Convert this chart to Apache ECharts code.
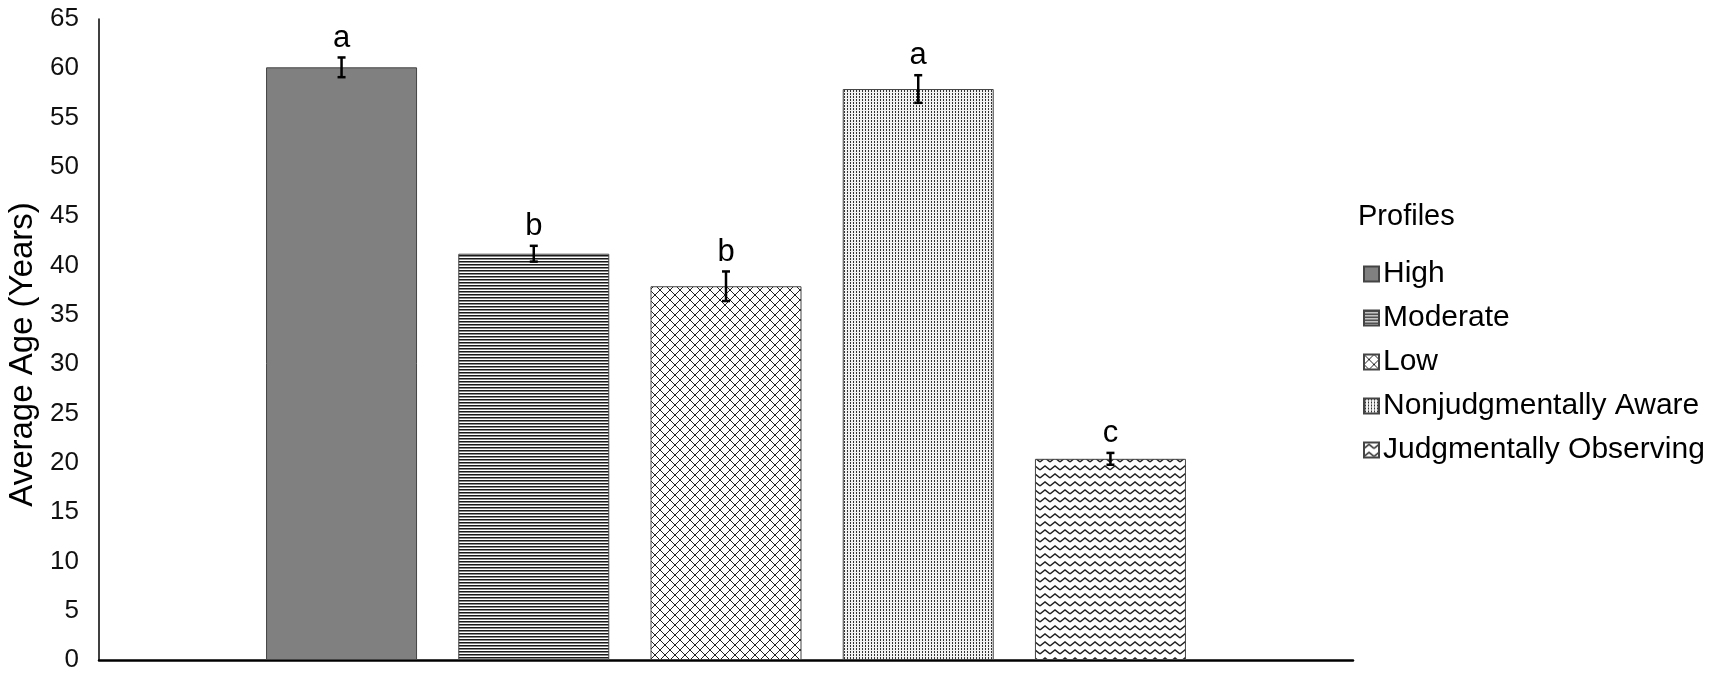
<!DOCTYPE html>
<html lang="en">
<head>
    <meta charset="UTF-8">
    <title>Average Age by Profile</title>
    <script src="https://cdn.jsdelivr.net/npm/echarts@6/dist/echarts.min.js"></script>
    <style>
        body{ margin:0; background:#fff; }
        #main{ width:1713px; height:676px; }
    </style>
</head>
<body>
<div id="main"></div>
<script type="text/javascript">
    // data
    var profiles = ['High', 'Moderate', 'Low', 'Nonjudgmentally Aware', 'Judgmentally Observing'];
    var means = [60.1, 41.2, 37.9, 57.9, 20.4];
    var errors = [1.0, 0.8, 1.5, 1.4, 0.6];
    var letters = ['a', 'b', 'b', 'a', 'c'];
    var yTicks = [0, 65, 5]; // min, max, step

    var BAR_W = 151, BAR_GAP = 0.273;

    // small canvas tiles used as fill patterns
    function tile(w, h, draw) {
        var c = document.createElement('canvas');
        c.width = w; c.height = h;
        var ctx = c.getContext('2d');
        ctx.fillStyle = '#fff';
        ctx.fillRect(0, 0, w, h);
        draw(ctx);
        return {image: c, repeat: 'repeat'};
    }
    var fills = [
        '#808080',
        tile(4, 3, function (ctx) {
            ctx.fillStyle = '#1a1a1a'; ctx.fillRect(0, 0, 4, 1);
            ctx.fillStyle = '#888'; ctx.fillRect(0, 1, 4, 1);
        }),
        tile(10, 10, function (ctx) {
            ctx.strokeStyle = '#222'; ctx.lineWidth = 1;
            ctx.beginPath();
            ctx.moveTo(0, 0); ctx.lineTo(10, 10);
            ctx.moveTo(10, 0); ctx.lineTo(0, 10);
            ctx.stroke();
        }),
        tile(3, 3, function (ctx) {
            ctx.fillStyle = '#f2f2f2'; ctx.fillRect(0, 0, 3, 3);
            ctx.fillStyle = '#333'; ctx.fillRect(1, 0, 1, 2);
        }),
        tile(10, 8, function (ctx) {
            ctx.strokeStyle = '#222'; ctx.lineWidth = 1.4;
            ctx.beginPath();
            ctx.moveTo(0, 6); ctx.lineTo(5, 2); ctx.lineTo(10, 6);
            ctx.stroke();
        })
    ];

    var myChart = echarts.init(document.getElementById('main'));

    var series = profiles.map(function (name, i) {
        return {
            name: name,
            type: 'bar',
            barWidth: BAR_W,
            barGap: (BAR_GAP * 100) + '%',
            itemStyle: {color: fills[i], borderColor: '#444', borderWidth: 1},
            data: [means[i]]
        };
    });

    var errData = means.map(function (m, i) { return [0, m, errors[i], i]; });
    series.push({
        type: 'custom',
        silent: true,
        z: 5,
        data: errData,
        renderItem: function (params, api) {
            var m = api.value(1), e = api.value(2), idx = api.value(3);
            var top = api.coord([0, m + e]);
            var bot = api.coord([0, m - e]);
            var pitch = BAR_W * (1 + BAR_GAP);
            var x = top[0] + (idx - (profiles.length - 1) / 2) * pitch;
            var cap = 4;
            var st = {stroke: '#000', lineWidth: 2.5};
            return {
                type: 'group',
                children: [
                    {type: 'line', shape: {x1: x, y1: top[1], x2: x, y2: bot[1]}, style: st},
                    {type: 'line', shape: {x1: x - cap, y1: top[1], x2: x + cap, y2: top[1]}, style: st},
                    {type: 'line', shape: {x1: x - cap, y1: bot[1], x2: x + cap, y2: bot[1]}, style: st},
                    {type: 'text', x: x, y: top[1] - 4, style: {
                        text: letters[idx], fill: '#000', font: '31px Arial, "Liberation Sans", sans-serif',
                        align: 'center', verticalAlign: 'bottom'
                    }}
                ]
            };
        }
    });

    var option = {
        backgroundColor: '#fff',
        animation: false,
        textStyle: {fontFamily: 'Arial, "Liberation Sans", sans-serif'},
        title: {
            text: 'Profiles',
            left: 1353, top: 197,
            textStyle: {fontSize: 29, fontWeight: 'normal', color: '#000'}
        },
        legend: {
            data: profiles,
            orient: 'vertical',
            left: 1358, top: 254,
            icon: 'rect',
            itemWidth: 15, itemHeight: 15,
            itemGap: 14,
            textStyle: {fontSize: 30, color: '#000', padding: [0, 0, 0, -1]}
        },
        grid: {left: 99, right: 360, top: 19, bottom: 16, outerBoundsMode: 'none'},
        xAxis: {
            type: 'category',
            data: [''],
            axisLine: {lineStyle: {color: '#000', width: 2.5}},
            axisTick: {show: false},
            axisLabel: {show: false}
        },
        yAxis: {
            type: 'value',
            min: yTicks[0], max: yTicks[1], interval: yTicks[2],
            name: 'Average Age (Years)',
            nameLocation: 'middle',
            nameGap: 57,
            nameTextStyle: {fontSize: 33, color: '#000', padding: [0, 0, 0, -30]},
            axisLine: {show: true, lineStyle: {color: '#000', width: 1.5}},
            axisTick: {show: false},
            splitLine: {show: false},
            axisLabel: {fontSize: 26, color: '#111', margin: 20}
        },
        series: series
    };
    myChart.setOption(option);
</script>
</body>
</html>
